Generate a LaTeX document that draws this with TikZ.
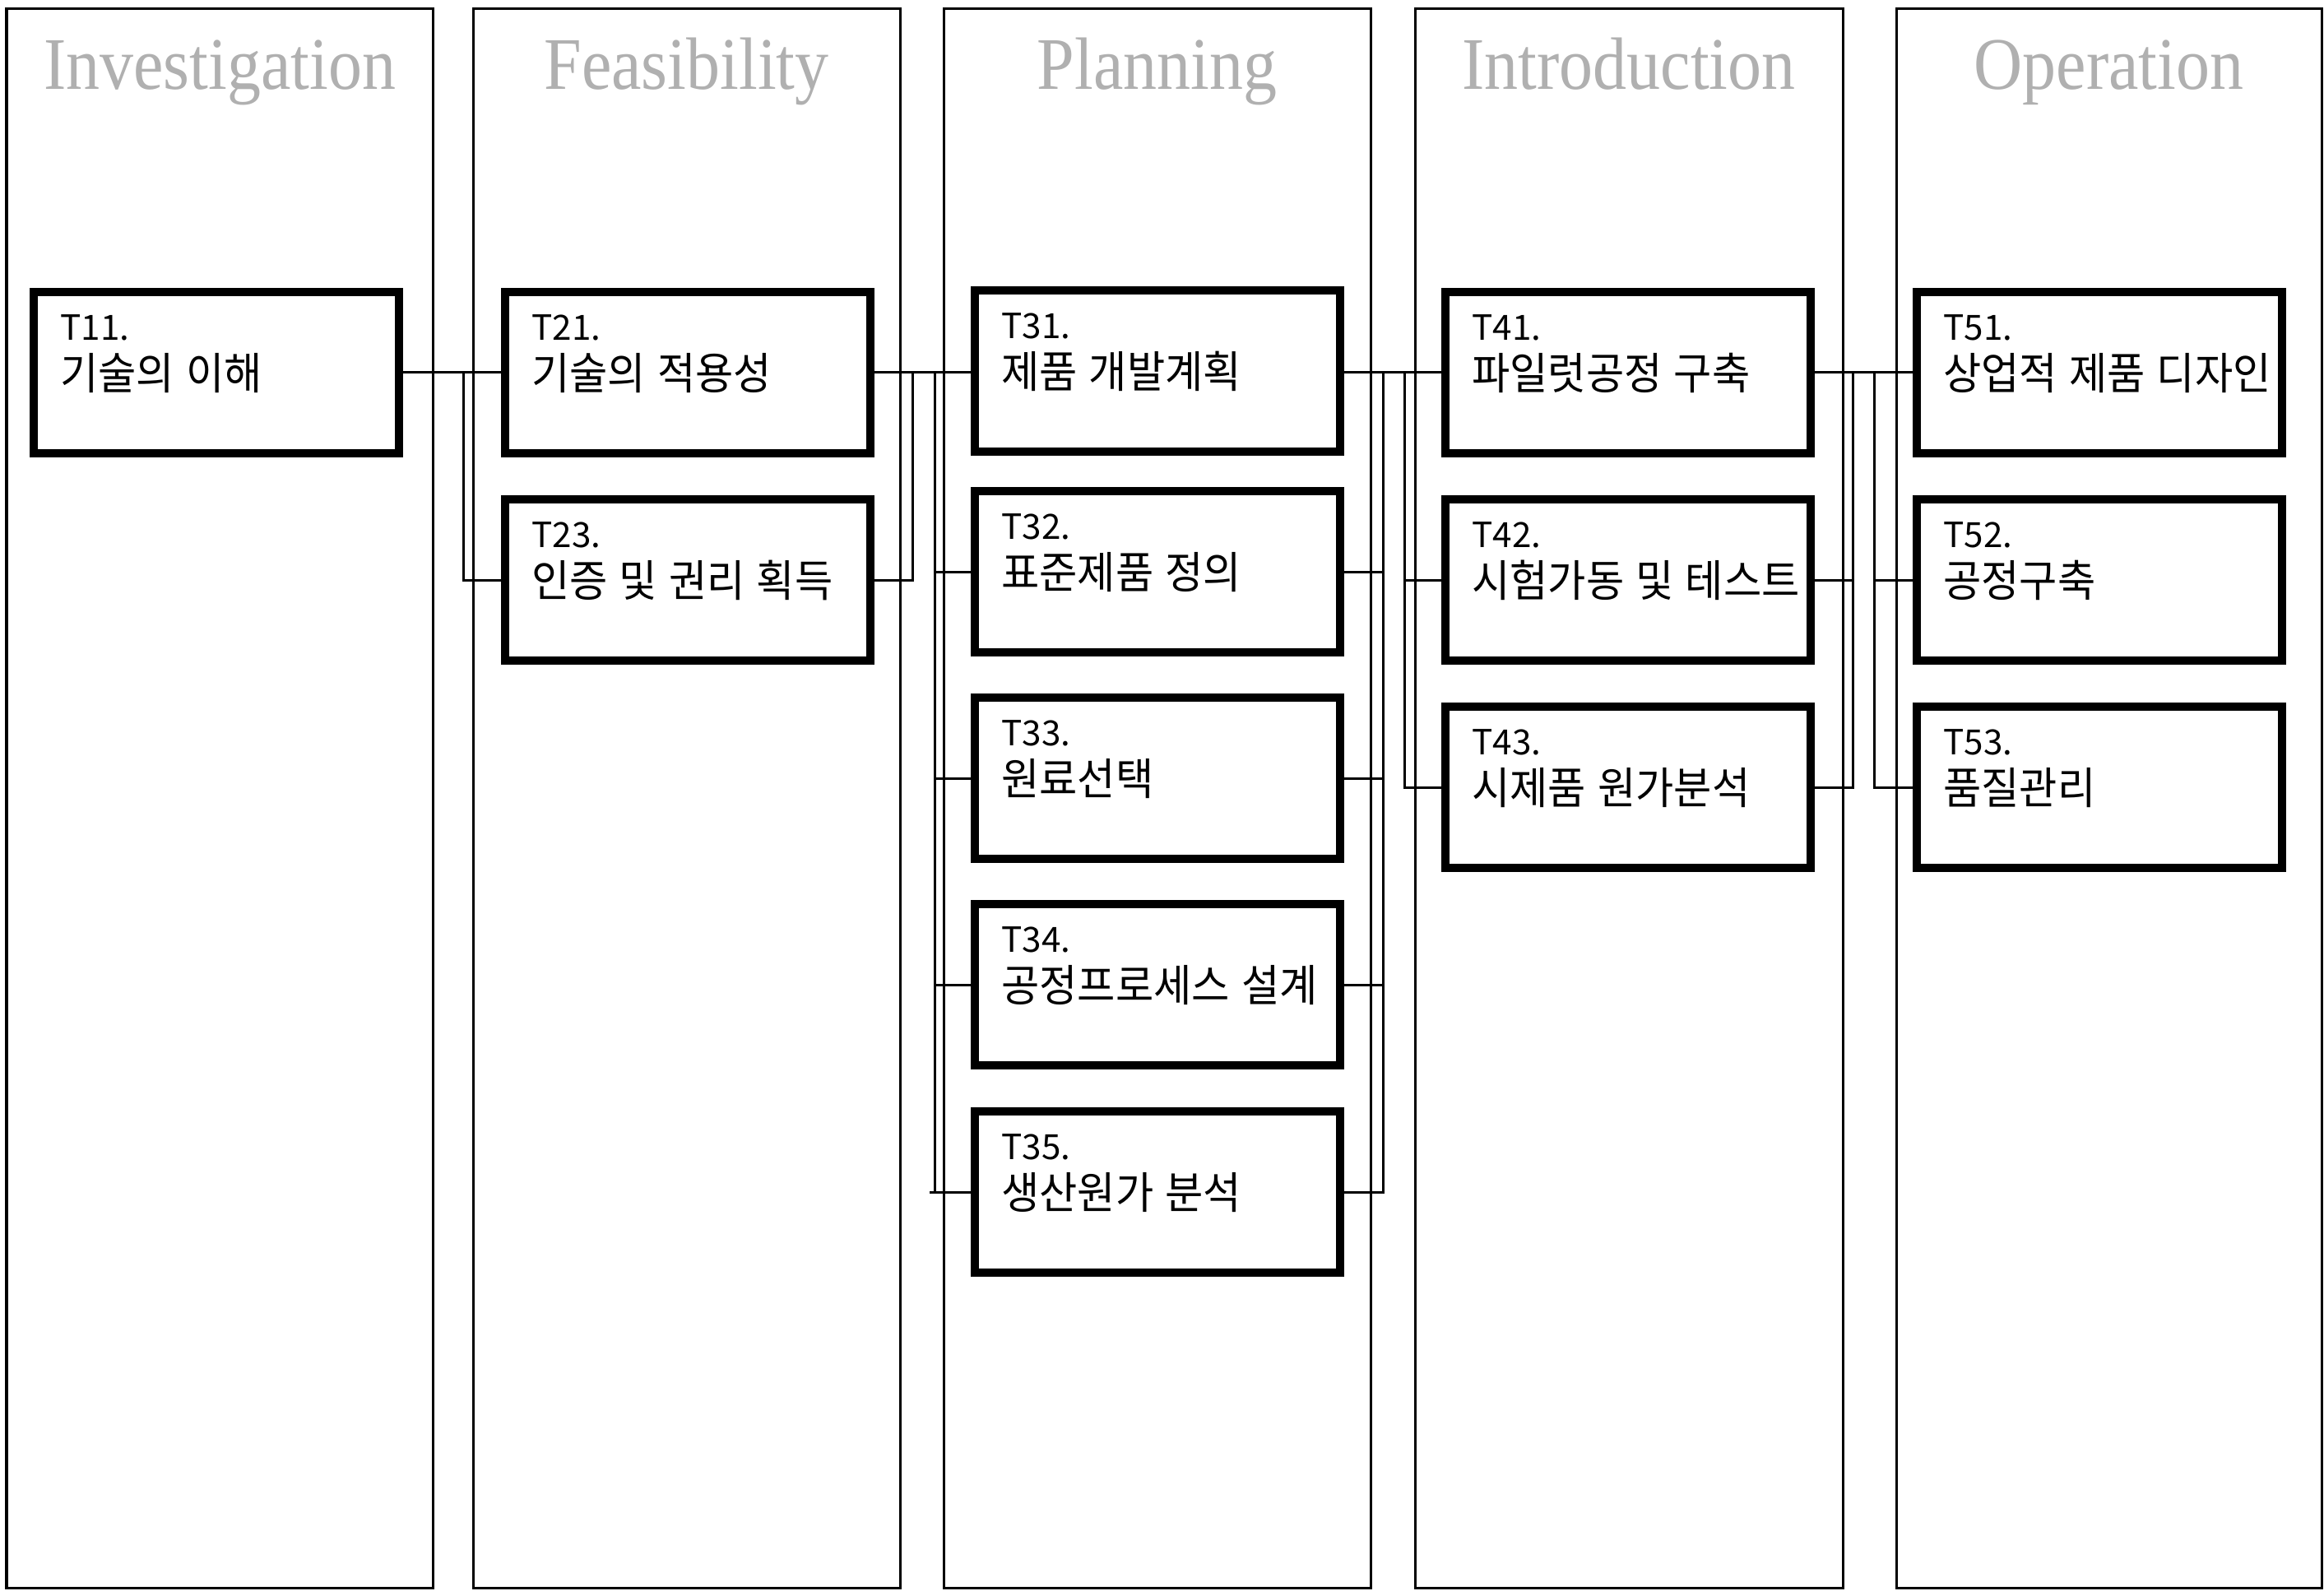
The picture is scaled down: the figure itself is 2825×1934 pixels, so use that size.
\documentclass[tikz,border=0pt]{standalone}
\usepackage{fontspec}
\newfontfamily\krfont{Noto Sans CJK KR}
\newfontfamily\phasefont{Liberation Serif}
\definecolor{phasegray}{RGB}{176,176,176}
\tikzset{
    phase/.style={draw, line width=0.03cm},
    phasetitle/.style={anchor=base, text=phasegray, font=\phasefont\fontsize{23.3}{28}\selectfont},
    task/.style={draw, line width=0.1cm, inner xsep=0.32cm, inner ysep=0pt,
        text width=3.79cm, align=left, text height=0.59cm, text depth=1.37cm,
        font=\krfont\fontsize{12}{16.8}\selectfont},
    link/.style={line width=0.03cm},
}
\newcommand{\tasktext}[2]{#1\\\scalebox{1}[1.06]{\fontsize{14.3}{16.8}\selectfont\spaceskip=4pt\relax #2}}

\begin{document}
\begin{tikzpicture}[x=0.01cm, y=-0.01cm]
        \path[fill=white] (0,0) rectangle (2825,1934);
        % phases
        \foreach \l/\r/\name [count=\i] in {8/526/Investigation, 575/1094/Feasibility,
            1147/1666/Planning, 1720/2240/Introduction, 2305/2822/Operation} {
            \draw[phase] (\l,11) rectangle (\r,1930);
            \node[phasetitle] (P\i) at ({(\l+\r)/2},109) {\scalebox{1}[1.1]{\name}};
        }

        % tasks
        \node[task] (T11) at (263,453) {\tasktext{T11.}{기술의 이해}};
        \node[task] (T21) at (836,453) {\tasktext{T21.}{기술의 적용성}};
        \node[task] (T23) at (836,705) {\tasktext{T23.}{인증 및 권리 획득}};
        \node[task] (T31) at (1407,451) {\tasktext{T31.}{제품 개발계획}};
        \node[task] (T32) at (1407,695) {\tasktext{T32.}{표준제품 정의}};
        \node[task] (T33) at (1407,946) {\tasktext{T33.}{원료선택}};
        \node[task] (T34) at (1407,1197) {\tasktext{T34.}{공정프로세스 설계}};
        \node[task] (T35) at (1407,1449) {\tasktext{T35.}{생산원가 분석}};
        \node[task] (T41) at (1979,453) {\tasktext{T41.}{파일럿공정 구축}};
        \node[task] (T42) at (1979,705) {\tasktext{T42.}{시험가동 및 테스트}};
        \node[task] (T43) at (1979,957) {\tasktext{T43.}{시제품 원가분석}};
        \node[task] (T51) at (2552,453) {\tasktext{T51.}{상업적 제품 디자인}};
        \node[task] (T52) at (2552,705) {\tasktext{T52.}{공정구축}};
        \node[task] (T53) at (2552,957) {\tasktext{T53.}{품질관리}};

        % links 1 -> 2
        \coordinate (j1) at (563,453);
        \draw[link] (T11.east) -- (T21.west);
        \draw[link] (j1) |- (T23.west);

        % links 2 -> 3
        \coordinate (j2) at (1109,453);
        \coordinate (bus3) at (1136,453);
        \draw[link] (T21.east) -- (T21.east -| T31.west);
        \draw[link] (T23.east) -| (j2);
        \draw[link] (bus3) |- (T35.west);
        \draw[link] ([xshift=-0.06cm]T35.west -| bus3) -- (T35.west);
        \foreach \t in {T32,T33,T34}
            \draw[link] (\t.west) -- (\t.west -| bus3);

        % links 3 -> 4
        \coordinate (busA) at (1681,453);
        \coordinate (busB) at (1707,453);
        \draw[link] (T41.west) -- (T41.west -| T31.east);
        \draw[link] (busA) |- (T35.east);
        \foreach \t in {T32,T33,T34}
            \draw[link] (\t.east) -- (\t.east -| busA);
        \draw[link] (busB) |- (T43.west);
        \draw[link] (T42.west) -- (T42.west -| busB);

        % links 4 -> 5
        \coordinate (busC) at (2252,453);
        \coordinate (busD) at (2278,453);
        \draw[link] (T41.east) -- (T51.west);
        \draw[link] (T43.east) -| (busC);
        \draw[link] (T42.east) -- (T42.east -| busC);
        \draw[link] (busD) |- (T53.west);
        \draw[link] (T52.west) -- (T52.west -| busD);
\end{tikzpicture}
\end{document}
